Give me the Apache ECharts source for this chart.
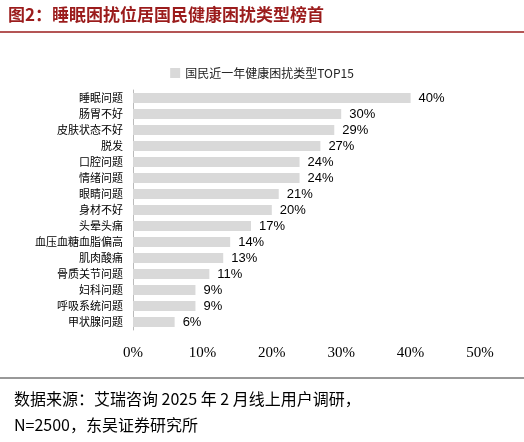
<!DOCTYPE html>
<html><head><meta charset="utf-8">
<script src="https://cdn.jsdelivr.net/npm/echarts@6/dist/echarts.min.js"></script>
<style>body{margin:0;background:#fff}#c{width:524px;height:442px}</style>
</head><body><div id="c"></div>
<script>
const categories=['睡眠问题','肠胃不好','皮肤状态不好','脱发','口腔问题','情绪问题','眼睛问题','身材不好','头晕头痛','血压血糖血脂偏高','肌肉酸痛','骨质关节问题','妇科问题','呼吸系统问题','甲状腺问题'];
const values=[40,30,29,27,24,24,21,20,17,14,13,11,9,9,6];
const xTicks=[0,10,20,30,40,50];
const chart=echarts.init(document.getElementById('c'));
chart.setOption({
 animation:false,
 graphic:[
  {type:'text',left:8,top:6,style:{text:'图2：睡眠困扰位居国民健康困扰类型榜首',fill:'#9b1c1c',font:'bold 17px "Noto Sans CJK SC"'}},
  {type:'line',shape:{x1:0,y1:32,x2:524,y2:32},style:{stroke:'#9b1c1c',lineWidth:1.5}},
  {type:'line',shape:{x1:0,y1:378,x2:524,y2:378},style:{stroke:'#333',lineWidth:1}},
  {type:'text',left:14,top:386,style:{text:'数据来源：艾瑞咨询 2025 年 2 月线上用户调研，\nN=2500，东吴证券研究所',fill:'#000',font:'16px "Noto Sans CJK SC"',lineHeight:26}}
 ],
 legend:{top:62,left:'center',itemWidth:10,itemHeight:10,icon:'rect',textStyle:{fontSize:12,color:'#222',fontFamily:'Noto Sans CJK SC'},data:['国民近一年健康困扰类型TOP15']},
 grid:{left:133,right:44,top:90,bottom:112},
 xAxis:{type:'value',min:0,max:50,interval:10,axisLabel:{formatter:v=>v+'%',fontSize:15,color:'#000',fontFamily:'Liberation Serif',margin:16},splitLine:{show:false},axisLine:{show:false},axisTick:{show:false}},
 yAxis:{type:'category',inverse:true,data:categories,axisLine:{show:true,lineStyle:{color:'#bbb'}},axisTick:{show:false},axisLabel:{fontSize:11,color:'#000',fontFamily:'Noto Sans CJK SC',margin:10}},
 series:[{name:'国民近一年健康困扰类型TOP15',type:'bar',data:values,barWidth:10,itemStyle:{color:'#d9d9d9'},
  label:{show:true,position:'right',formatter:p=>p.value+'%',fontSize:13,color:'#000',fontFamily:'Liberation Sans',distance:8}}]
});
</script></body></html>
